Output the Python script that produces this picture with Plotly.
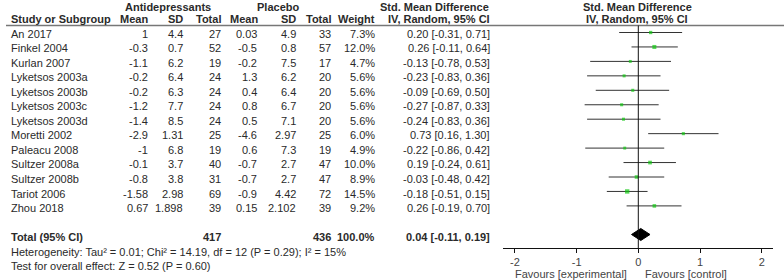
import plotly.graph_objects as go

studies = ["An 2017", "Finkel 2004", "Kurlan 2007", "Lyketsos 2003a", "Lyketsos 2003b",
           "Lyketsos 2003c", "Lyketsos 2003d", "Moretti 2002", "Paleacu 2008",
           "Sultzer 2008a", "Sultzer 2008b", "Tariot 2006", "Zhou 2018"]
exp_mean = ["1", "-0.3", "-1.1", "-0.2", "-0.2", "-1.2", "-1.4", "-2.9", "-1", "-0.1", "-0.8", "-1.58", "0.67"]
exp_sd = ["4.4", "0.7", "6.2", "6.4", "6.3", "7.7", "8.5", "1.31", "6.8", "3.7", "3.8", "2.98", "1.898"]
exp_n = [27, 52, 19, 24, 24, 24, 24, 25, 19, 40, 31, 69, 39]
ctl_mean = ["0.03", "-0.5", "-0.2", "1.3", "0.4", "0.8", "0.5", "-4.6", "0.6", "-0.7", "-0.7", "-0.9", "0.15"]
ctl_sd = ["4.9", "0.8", "7.5", "6.2", "6.4", "6.7", "7.1", "2.97", "7.3", "2.7", "2.7", "4.42", "2.102"]
ctl_n = [33, 57, 17, 20, 20, 20, 20, 25, 19, 47, 47, 72, 39]
weight = [7.3, 12.0, 4.7, 5.6, 5.6, 5.6, 5.6, 6.0, 4.9, 10.0, 8.9, 14.5, 9.2]
smd = [0.20, 0.26, -0.13, -0.23, -0.09, -0.27, -0.24, 0.73, -0.22, 0.19, -0.03, -0.18, 0.26]
ci_lo = [-0.31, -0.11, -0.78, -0.83, -0.69, -0.87, -0.83, 0.16, -0.86, -0.24, -0.48, -0.51, -0.19]
ci_hi = [0.71, 0.64, 0.53, 0.36, 0.50, 0.33, 0.36, 1.30, 0.42, 0.61, 0.42, 0.15, 0.70]
total_exp = 417
total_ctl = 436
total_weight = "100.0%"
total_smd, total_lo, total_hi = 0.04, -0.11, 0.19
heterogeneity = "Heterogeneity: Tau² = 0.01; Chi² = 14.19, df = 12 (P = 0.29); I² = 15%"
overall = "Test for overall effect: Z = 0.52 (P = 0.60)"
tick_vals = [-2, -1, 0, 1, 2]
tick_text = ["-2", "-1", "0", "1", "2"]
fav_left = "Favours [experimental]"
fav_right = "Favours [control]"

W, H = 784, 280
PLOT_H = 248
FONT = "Liberation Sans, Arial, sans-serif"
TXT = "#2a2a2a"
FS = 11

text_y = [33.5 + i * 14.55 for i in range(len(studies))]
line_y = [32.5 + i * 14.45 for i in range(len(studies))]
total_y = 234.5

fig = go.Figure()

# CI lines
lx, ly = [], []
for lo, hi, y in zip(ci_lo, ci_hi, line_y):
    lx += [lo, hi, None]
    ly += [y, y, None]
fig.add_trace(go.Scatter(x=lx, y=ly, mode="lines", line=dict(color="#333333", width=1),
                         hoverinfo="skip", showlegend=False))
# squares
fig.add_trace(go.Scatter(x=smd, y=line_y, mode="markers",
                         marker=dict(symbol="square", color="#10c810",
                                     size=[2.2 + w * 0.15 for w in weight], line=dict(width=0)),
                         hoverinfo="skip", showlegend=False))
# diamond
fig.add_trace(go.Scatter(x=[total_lo, total_smd, total_hi, total_smd, total_lo],
                         y=[total_y, total_y - 6, total_y, total_y + 6, total_y],
                         mode="lines", fill="toself", fillcolor="#000000",
                         line=dict(color="#000000", width=1), hoverinfo="skip", showlegend=False))

shapes = [
    dict(type="line", xref="paper", yref="y", x0=6 / W, x1=1, y0=25.5, y1=25.5,
         line=dict(color="#777777", width=1.3)),
    dict(type="line", xref="x", yref="y", x0=0, x1=0, y0=25.5, y1=248,
         line=dict(color="#111111", width=1)),
]

ann = []


def txt(x, y, s, anchor="right", bold=False, color=TXT, size=FS):
    ann.append(dict(x=x / W, y=(PLOT_H - y) / PLOT_H, xref="paper", yref="paper",
                    text=("<b>%s</b>" % s) if bold else s,
                    showarrow=False, xanchor=anchor, yanchor="middle",
                    font=dict(family=FONT, size=size, color=color)))


# headers row 1
txt(168, 6.5, "Antidepressants", "center", True)
txt(277.5, 6.5, "Placebo", "center", True)
txt(434, 6.5, "Std. Mean Difference", "center", True)
txt(637.5, 6.5, "Std. Mean Difference", "center", True)
# headers row 2
hy = 19.5
txt(9, hy, "Study or Subgroup", "left", True)
txt(150, hy, "Mean", "right", True)
txt(185, hy, "SD", "right", True)
txt(223, hy, "Total", "right", True)
txt(260, hy, "Mean", "right", True)
txt(298, hy, "SD", "right", True)
txt(333, hy, "Total", "right", True)
txt(377, hy, "Weight", "right", True)
txt(492, hy, "IV, Random, 95% CI", "right", True)
txt(637, hy, "IV, Random, 95% CI", "center", True)

for i, y in enumerate(text_y):
    txt(9, y, studies[i], "left")
    txt(150, y, exp_mean[i])
    txt(185, y, exp_sd[i])
    txt(223, y, str(exp_n[i]))
    txt(259, y, ctl_mean[i])
    txt(298, y, ctl_sd[i])
    txt(333, y, str(ctl_n[i]))
    txt(377, y, "%.1f%%" % weight[i])
    txt(492, y, "%.2f [%.2f, %.2f]" % (smd[i], ci_lo[i], ci_hi[i]))

ty = 236.5
txt(9, ty, "Total (95% CI)", "left", True)
txt(223, ty, str(total_exp), "right", True)
txt(333, ty, str(total_ctl), "right", True)
txt(377, ty, total_weight, "right", True)
txt(492, ty, "%.2f [%.2f, %.2f]" % (total_smd, total_lo, total_hi), "right", True)
txt(9, 252, heterogeneity, "left")
txt(9, 265.5, overall, "left")
txt(629, 273.5, fav_left, "right", color="#444444")
txt(643, 273.5, fav_right, "left", color="#444444")

fig.update_layout(
    width=W, height=H, margin=dict(l=0, r=0, t=0, b=H - PLOT_H), paper_bgcolor="white",
    plot_bgcolor="rgba(0,0,0,0)", shapes=shapes, annotations=ann,
    xaxis=dict(domain=[503 / W, 773 / W], range=[-2.193, 2.183], tickvals=tick_vals,
               ticktext=tick_text, ticks="outside", ticklen=4, tickcolor="#111111",
               showline=True, linecolor="#111111", linewidth=1, showgrid=False, zeroline=False,
               tickfont=dict(family=FONT, size=FS, color="#444444"), fixedrange=True,
               automargin=False),
    yaxis=dict(domain=[0, 1], range=[PLOT_H, 0], visible=False, fixedrange=True),
)
fig.write_html("out.html", config={"displayModeBar": False},
               post_script="document.body.style.margin='0';document.body.style.overflow='hidden';")
